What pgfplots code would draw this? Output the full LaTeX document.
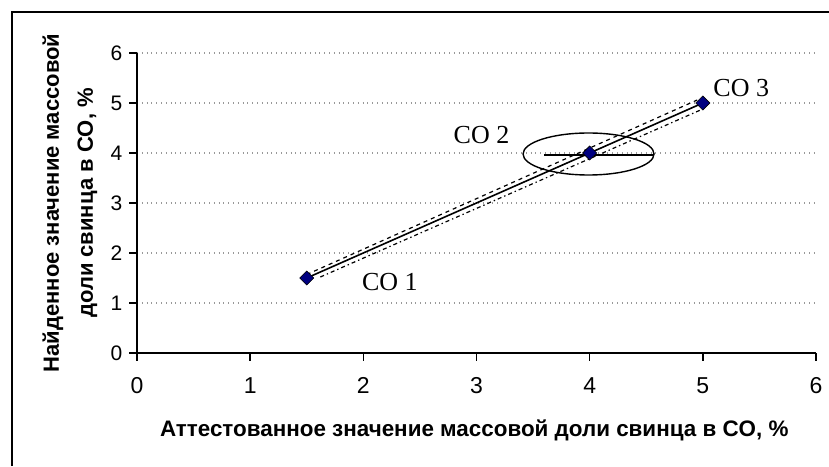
\documentclass[border=0pt]{standalone}
\usepackage{fontspec}
\setmainfont{Liberation Sans}
\newfontfamily\timesfont{Liberation Serif}
\usepackage{pgfplots}
\pgfplotsset{compat=1.18}
\definecolor{marknavy}{HTML}{000080}

\begin{document}
\begin{tikzpicture}
\path[use as bounding box] (0,0) rectangle (414.5pt,233pt);
\draw[line width=1pt] (6pt,0) -- (6pt,227pt) -- (414.5pt,227pt);
\begin{axis}[
  at={(68.5pt,56.5pt)}, anchor=south west,
  scale only axis, width=339.5pt, height=150pt,
  xmin=0, xmax=6, ymin=0, ymax=6,
  axis x line*=bottom, axis y line*=left,
  axis line style={line width=1pt},
  xtick={0,1,...,6}, ytick={0,1,...,6},
  tick align=outside, major tick length=3.8pt,
  tick style={line width=0.8pt, black},
  ymajorgrids,
  major grid style={gray!80, dotted, line width=0.6pt},
  /pgf/number format/assume math mode=true,
  xticklabel style={font=\fontsize{11.5}{11.5}\selectfont, yshift=-5pt},
  yticklabel style={font=\fontsize{10.5}{10.5}\selectfont},
  xlabel={Аттестованное значение массовой доли свинца в CO, \%},
  xlabel style={font=\bfseries\fontsize{11.2}{12}\selectfont,
    at={(axis cs:2.98,0)}, anchor=base, yshift=-41.5pt},
  ylabel={Найденное значение массовой\\доли свинца в CO, \%},
  ylabel style={font=\bfseries\fontsize{11}{17}\selectfont, align=center,
    at={(axis cs:0,3)}, anchor=center, yshift=33.5pt},
]
% regression line and confidence bounds
\addplot[black, line width=0.8pt] coordinates {(1.5,1.5) (5,5)};
\addplot[black, line width=0.6pt, dash pattern=on 2pt off 2pt]
  coordinates {(1.5,1.57) (4.95,5.06)};
\addplot[black, line width=0.6pt, dash pattern=on 2pt off 1.5pt on 0.7pt off 1.5pt]
  coordinates {(1.62,1.52) (5.0,4.88)};
% error bar at CO 2
\addplot[black, line width=0.9pt] coordinates {(3.6,3.96) (4.57,3.96)};
% reference samples
\addplot[only marks, mark=square*, mark size=2.5pt,
  mark options={rotate=45, fill=marknavy, draw=black, line width=0.3pt}]
  coordinates {(1.5,1.5) (4,4) (5,5)};
\draw[line width=0.7pt] (axis cs:3.99,3.98) ellipse [x radius=32.75pt, y radius=10.5pt];
\node[anchor=base west, inner sep=0, font=\timesfont\fontsize{13}{13}\selectfont]
  at (axis cs:1.985,1.245) {CO 1};
\node[anchor=base west, inner sep=0, font=\timesfont\fontsize{13}{13}\selectfont]
  at (axis cs:2.795,4.18) {CO 2};
\node[anchor=base west, inner sep=0, font=\timesfont\fontsize{13}{13}\selectfont]
  at (axis cs:5.09,5.12) {CO 3};
\end{axis}
\end{tikzpicture}
\end{document}
